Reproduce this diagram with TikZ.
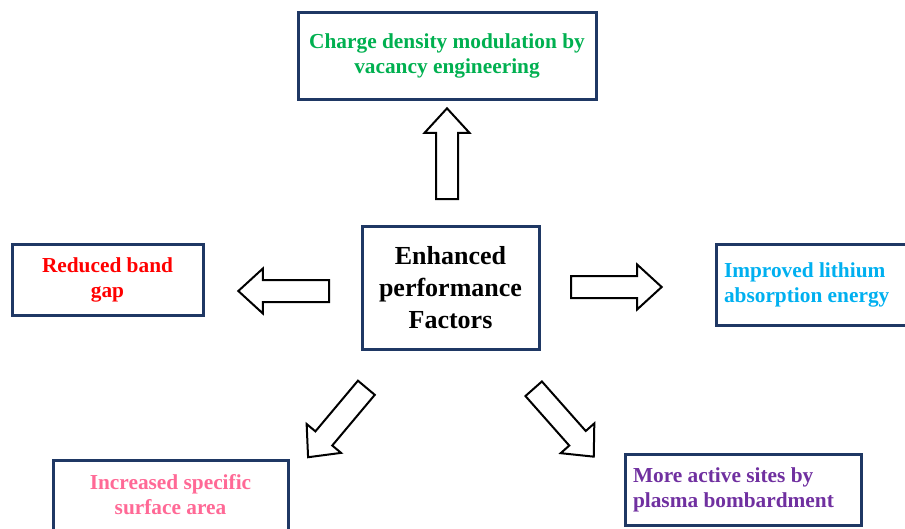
\documentclass[tikz,border=0pt]{standalone}
\usepackage{fontspec}
\setmainfont{Liberation Serif}
\usetikzlibrary{shapes.arrows}

\definecolor{BoxLine}{RGB}{31,56,100}
\definecolor{TextGreen}{RGB}{0,176,80}
\definecolor{TextRed}{RGB}{255,0,0}
\definecolor{TextCyan}{RGB}{0,176,240}
\definecolor{TextPink}{RGB}{255,105,150}
\definecolor{TextPurple}{RGB}{112,48,160}

\tikzset{
	factorbox/.style={draw=BoxLine,line width=2.25pt,fill=white,
		inner sep=6pt,align=center,
		font=\bfseries\fontsize{16}{18.75}\selectfont},
	leftbox/.style={factorbox,align=flush left,inner xsep=0pt,
		text width=#1},
	blockarrow/.style={single arrow,draw=black,line width=1.5pt,
		fill=white,inner sep=7.5pt,single arrow head extend=8.6pt,
		single arrow tip angle=85,minimum height=68pt,anchor=tail}
}

\begin{document}
\begin{tikzpicture}[x=0.75pt,y=-0.75pt]
	\useasboundingbox (0,0) rectangle (905,528);
	\clip (0,0) rectangle (905,528);
	% centre
	\node[factorbox,minimum width=132.75pt,minimum height=92.25pt,
		font=\bfseries\fontsize{19.5}{24}\selectfont]
		(main) at (450.5,287.5) {Enhanced\\performance\\Factors};
	% factors round it
	\node[factorbox,text=TextGreen,minimum width=223.5pt,
		minimum height=64.5pt]
		(charge) at (447,56)
		{Charge density modulation by\\vacancy engineering};
	\node[factorbox,text=TextRed,minimum width=143.25pt,
		minimum height=53.25pt]
		(band) at (107.5,279.5) {Reduced band\\gap};
	\node[leftbox=135pt,text=TextCyan,minimum width=147pt,
		minimum height=60.75pt]
		(lithium) at (814,284.5)
		{Improved lithium\\absorption energy};
	\node[factorbox,text=TextPink,minimum width=176.25pt,
		minimum height=52.5pt]
		(surface) at (170.5,495)
		{Increased specific\\surface area};
	\node[leftbox=165pt,text=TextPurple,minimum width=177pt,
		minimum height=53.25pt]
		(sites) at (743,489.5)
		{More active sites by\\plasma bombardment};
	% block arrows
	\node[blockarrow,rotate=90] (toCharge) at (447,200) {};
	\node[blockarrow,rotate=180] (toBand) at (330,291) {};
	\node[blockarrow] (toLithium) at (570,287) {};
	\node[blockarrow,rotate=230] (toSurface) at (367,387) {};
	\node[blockarrow,rotate=-48.5] (toSites) at (533,388) {};
\end{tikzpicture}
\end{document}
